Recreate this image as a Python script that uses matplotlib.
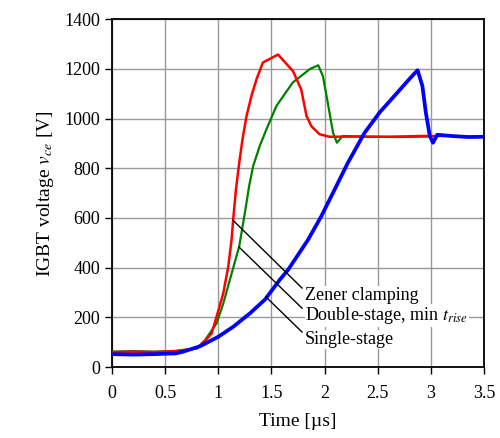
import numpy as np
import matplotlib
matplotlib.use("Agg")
import matplotlib.pyplot as plt

plt.rcParams['font.family'] = ['Liberation Serif', 'DejaVu Serif']
plt.rcParams['mathtext.fontset'] = 'stix'

# --- Dados (tempo em us, tensão em V) ---
t_red = [0.0, 0.2, 0.4, 0.6, 0.8, 0.875, 0.9375, 0.984, 1.047, 1.094, 1.125, 1.14,
         1.166, 1.197, 1.228, 1.266, 1.3125, 1.36, 1.42, 1.5625, 1.703, 1.78,
         1.83, 1.875, 1.953, 2.047, 2.3, 2.6, 2.9, 3.1]
v_red = [60, 62, 60, 64, 75, 105, 135, 203, 297, 405, 512, 593,
         714, 822, 917, 1011, 1092, 1159, 1226, 1258, 1191, 1118,
         1011, 970, 937, 927, 928, 927, 930, 930]

t_green = [0.0, 0.2, 0.4, 0.6, 0.8, 0.875, 0.984, 1.047, 1.109, 1.197, 1.25, 1.29,
           1.328, 1.39, 1.453, 1.547, 1.70, 1.86, 1.94, 1.984, 2.03, 2.08,
           2.116, 2.17, 2.4, 2.7, 2.99]
v_green = [62, 64, 62, 65, 76, 108, 176, 256, 351, 486, 620, 728,
           809, 890, 957, 1051, 1145, 1199, 1215, 1172, 1064, 943,
           903, 930, 927, 926, 928]

t_blue = [0.0, 0.2, 0.4, 0.6, 0.67, 0.83, 1.0, 1.14, 1.297, 1.44, 1.578, 1.656,
          1.844, 1.969, 2.094, 2.219, 2.375, 2.516, 2.656, 2.797, 2.875, 2.92,
          2.953, 2.99, 3.02, 3.06, 3.2, 3.35, 3.5]
v_blue = [52, 50, 52, 55, 62, 84, 122, 162, 216, 272, 351, 391,
          512, 607, 714, 822, 942, 1024, 1091, 1159, 1195, 1132,
          1024, 930, 903, 935, 930, 926, 927]

# --- Rótulos e pontos das anotações ---
labels = ['Zener clamping', 'Double-stage, min $t_{rise}$', 'Single-stage']
pontos = [(1.138, 591), (1.195, 483), (1.449, 282)]
ancoras = [(1.788, 318), (1.788, 237), (1.788, 141)]

fig = plt.figure(figsize=(5.0, 4.38), dpi=100)
ax = fig.add_axes([0.224, 0.162, 0.744, 0.794])

ax.plot(t_green, v_green, color='#008000', lw=1.6, zorder=3)
ax.plot(t_red, v_red, color='#ff0000', lw=1.8, zorder=4)
ax.plot(t_blue, v_blue, color='#0000ff', lw=2.7, zorder=5)

for lab, (px, py), (ax_, ay) in zip(labels, pontos, ancoras):
    ax.plot([px, ax_], [py, ay], color='black', lw=1.0, zorder=6)
    ax.text(ax_ + 0.03, ay - 30, lab, fontsize=13, va='center', ha='left', zorder=7,
            bbox=dict(facecolor='white', edgecolor='none', pad=0.5))

ax.set_xlim(0, 3.5)
ax.set_ylim(0, 1400)
ax.set_xticks(np.arange(0, 3.51, 0.5))
ax.set_xticklabels(['0', '0.5', '1', '1.5', '2', '2.5', '3', '3.5'])
ax.set_yticks(np.arange(0, 1401, 200))
ax.grid(True, color='#999999', lw=1.0)
ax.set_axisbelow(True)
for s in ax.spines.values():
    s.set_linewidth(1.3)
ax.tick_params(direction='out', length=5, width=1.0, labelsize=13)
ax.tick_params(axis='x', pad=8)

ax.set_xlabel('Time [\u00b5s]', fontsize=14, labelpad=8)
ax.set_ylabel('IGBT voltage $v_{ce}$ [V]', fontsize=14, labelpad=6)

plt.savefig("out.png", dpi=100)
